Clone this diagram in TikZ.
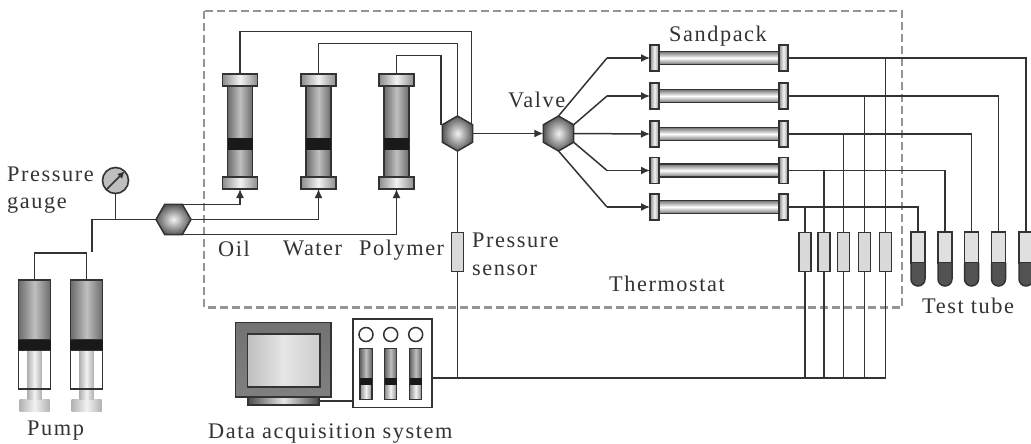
\documentclass[tikz,border=0pt]{standalone}
\usepackage{fontspec}
\setmainfont[LetterSpace=7]{Liberation Serif}
\usetikzlibrary{shapes,arrows.meta}
\definecolor{linec}{gray}{0.2}
\definecolor{dashc}{gray}{0.58}
\begin{document}
\begin{tikzpicture}[x=1pt,y=-1pt]
\tikzstyle{part}=[rectangle,draw=linec,line width=1.5pt,inner sep=0pt,outer sep=0pt]
\tikzstyle{body}=[part,left color=black!58,right color=black!58,middle color=black!25]
\tikzstyle{collar}=[part,left color=black!45,right color=black!45,middle color=black!5]
\tikzstyle{rodp}=[rectangle,inner sep=0pt,outer sep=0pt,left color=black!30,right color=black!30,middle color=black!5]
\tikzstyle{band}=[rectangle,fill=black!90,inner sep=0pt,outer sep=0pt]
\tikzstyle{tubeh}=[part,top color=black!55,bottom color=black!55,middle color=white]
\tikzstyle{sensor}=[part,fill=black!15,minimum width=12,minimum height=39]
\tikzstyle{hexv}=[regular polygon,regular polygon sides=6,minimum size=35,draw=linec,line width=1.5pt,inner sep=0pt,outer sep=0pt,inner color=black!5,outer color=black!65]
\tikzstyle{pipe}=[draw=linec,line width=1.5pt]
\tikzstyle{flow}=[pipe,-{Latex[length=9pt,width=8pt]}]
\tikzstyle{lbl}=[anchor=base west,inner sep=0pt,text=black!80,font=\fontsize{22.3}{26}\selectfont]
\useasboundingbox (0,0) rectangle (1031,444);
\draw[dashc,line width=2.6pt,dash pattern=on 8pt off 4pt] (204,11) rectangle (902,307.5);

\foreach \n/\x in {a/34.5,b/86.5}{
  \node[rodp,minimum width=30,minimum height=12] (foot\n) at (\x,405) {};
  \node[rodp,minimum width=14,minimum height=49] (rod\n) at (\x,374.5) {};
  \node[part,minimum width=32,minimum height=39] (glass\n) at (\x,369.5) {};
  \node[body,minimum width=32,minimum height=60] (pump\n) at (\x,310) {};
  \node[band,minimum width=33,minimum height=10] (seal\n) at (\x,345) {};
}
\node[lbl] (pumptxt) at (27,435) {Pump};

\coordinate (pj) at (60,253);
\coordinate (pipeend) at (92,252);
\node[hexv] (hexa) at (173.5,219.5) {};
\node[circle,draw=linec,line width=1.6pt,fill=black!25,minimum size=26,inner sep=0pt,outer sep=0pt] (gauge) at (115.5,180.5) {};
\draw[pipe,-{Latex[length=7pt,width=7pt]}] (gauge.225) -- (gauge.45);
\draw[pipe] (pumpa.north) |- (pj) -| (pumpb.north);
\draw[pipe] (pipeend) |- (hexa.west);
\draw[pipe] (gauge.south) -- (gauge.south |- hexa.west);
\node[lbl] (gaugetxta) at (7,181) {Pressure};
\node[lbl] (gaugetxtb) at (7,208) {gauge};

\foreach \n/\x in {oil/240,water/318.5,poly/396.5}{
  \node[body,minimum width=25,minimum height=91] (\n) at (\x,131.5) {};
  \node[band,minimum width=25,minimum height=12] (\n band) at (\x,144) {};
  \node[collar,minimum width=35,minimum height=12] (\n top) at (\x,80) {};
  \node[collar,minimum width=35,minimum height=12] (\n bot) at (\x,183) {};
}
\node[hexv,shape border rotate=30] (hexb) at (457.5,133.5) {};
\node[hexv,shape border rotate=30] (hexc) at (558.5,133.5) {};
\node[sensor] (psensor) at (457.5,252) {};

\coordinate (oilup) at (471.5,31.5);
\coordinate (oildown) at (471.5,125);
\coordinate (waterup) at (457.5,43.5);
\coordinate (polyup) at (441,55.5);
\coordinate (polydown) at (441,125);
\draw[pipe] (oiltop.north) |- (oilup) -- (oildown);
\draw[pipe] (watertop.north) |- (waterup) -- (hexb.north);
\draw[pipe] (polytop.north) |- (polyup) -- (polydown);
\draw[flow] (hexa.120) -| (oilbot.south);
\draw[flow] (hexa.east) -| (waterbot.south);
\draw[flow] (hexa.240) -| (polybot.south);
\draw[flow] (hexb.east) -- (hexc.west);
\draw[pipe] (hexb.south) -- (psensor.north);
\node[lbl] (oiltxt) at (218,256.5) {Oil};
\node[lbl] (watertxt) at (283,255) {Water};
\node[lbl] (polytxt) at (359,255) {Polymer};
\node[lbl] (senstxta) at (472,247) {Pressure};
\node[lbl] (senstxtb) at (472,275) {sensor};
\node[lbl] (thermotxt) at (609,291) {Thermostat};
\node[lbl] (valvetxt) at (508,107) {Valve};
\node[lbl] (sandtxt) at (669,41.5) {Sandpack};
\node[lbl] (testtxt) at (922,313) {Test tube};

\foreach \i/\y in {1/58,2/96,3/134,4/170.5,5/207}{
  \node[tubeh,minimum width=121,minimum height=13] (sand\i) at (719,\y) {};
  \node[collar,minimum width=9,minimum height=26] (sl\i) at (654.5,\y) {};
  \node[collar,minimum width=9,minimum height=26] (sr\i) at (783.5,\y) {};
}
\foreach \i/\y in {1/58,2/96,4/170.5,5/207}{
  \coordinate (k\i) at (607,\y);
  \draw[flow] (k\i) -- (sl\i.west);
}
\draw[pipe] (hexc.north) -- (k1);
\draw[pipe] (hexc.30) -- (k2);
\draw[flow] (hexc.east) -- (sl3.west);
\draw[pipe] (hexc.-30) -- (k4);
\draw[pipe] (hexc.south) -- (k5);

\coordinate (busend) at (885.5,378);
\foreach \i/\s/\t in {1/885.5/1026,2/864.5/998.5,3/843.5/971.5,4/824/945,5/805/918}{
  \node[part,fill=black!12,minimum width=14,minimum height=31] (tube\i) at (\t,247.5) {};
  \draw[part,fill=black!68,rounded corners=7pt] (\t-7,263) -- (\t-7,286) -- (\t+7,286) -- (\t+7,263);
  \node[sensor] (sens\i) at (\s,252) {};
  \draw[pipe] (sr\i.east) -| (tube\i.north);
  \draw[pipe] (sens\i.north) -- (sens\i.north |- sr\i.east);
  \draw[pipe] (sens\i.south) -- (sens\i.south |- busend);
}

\node[part,fill=white,minimum width=79,minimum height=88.5] (daq) at (392.5,363.25) {};
\foreach \n/\x in {a/366,b/390.7,c/415.7}{
  \node[circle,draw=linec,line width=1.5pt,fill=white,minimum size=14,inner sep=0pt] (lamp\n) at (\x,334.5) {};
  \node[collar,minimum width=12,minimum height=50.5] (gl\n) at (\x,374.25) {};
  \node[body,draw=none,minimum width=11,minimum height=29] (gd\n) at (\x,364) {};
  \node[band,minimum width=12,minimum height=6.5] (gb\n) at (\x,381.5) {};
}
\node[part,top color=black!55,bottom color=black!50,minimum width=95.5,minimum height=74.5] (monitor) at (283.25,359.75) {};
\node[part,left color=black!25,right color=black!20,middle color=black!10,minimum width=72.5,minimum height=53] (screen) at (283.75,360.5) {};
\node[part,left color=black!70,right color=black!70,middle color=black!10,minimum width=71,minimum height=8] (mbase) at (283.5,401) {};
\draw[pipe] (mbase.east) -- (daq.west |- mbase.east);
\draw[pipe] (daq.east |- busend) -- (busend);
\draw[pipe] (psensor.south) -- (psensor.south |- busend);
\node[lbl] (daqtxt) at (208,438) {Data acquisition system};
\end{tikzpicture}
\end{document}
